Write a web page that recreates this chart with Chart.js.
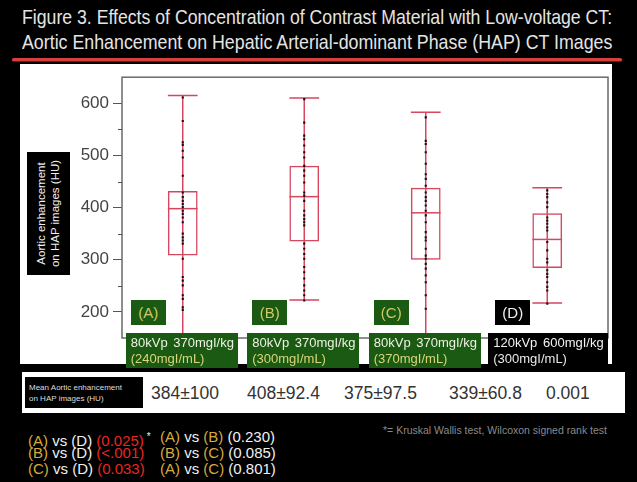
<!DOCTYPE html>
<html>
<head>
<meta charset="utf-8">
<script src="https://cdn.jsdelivr.net/npm/chart.js@4.4.0/dist/chart.umd.min.js"></script>
<style>
html, body { margin: 0; padding: 0; background: #000; }
body { width: 637px; height: 482px; position: relative; overflow: hidden; font-family: "Liberation Sans", Arial, sans-serif; }
.abs { position: absolute; }
.title { left: 22px; color: #e4e4e4; font-size: 21px; white-space: nowrap; line-height: 24px; transform-origin: 0 0; }
#rule { left: 12px; top: 58px; width: 610px; height: 3px; background: #d8403c; border-radius: 2px; box-shadow: 0 1px 1px #7a1a18; }
#panel { left: 20px; top: 64px; width: 592px; height: 300px; background: #fff; }
#chartWrap { left: 20px; top: 63px; width: 592px; height: 300px; }
#ytitle { left: 27px; top: 152px; width: 43px; height: 123px; background: #000; overflow: hidden; }
#ytitle div { position: absolute; left: -40px; top: 40px; width: 123px; height: 43px; transform: rotate(-90deg); color: #f0f0f0; font-size: 11.5px; line-height: 14px; text-align: center; padding-top: 7px; box-sizing: border-box; }
.tag { height: 25px; width: 35px; color: #d2c868; font-size: 15px; line-height: 25px; text-align: center; }
.cat { height: 35px; font-size: 13px; line-height: 16px; padding: 2px 0 0 5px; box-sizing: border-box; white-space: nowrap; word-spacing: 2px; }
#table { left: 22px; top: 372px; width: 603px; height: 41px; background: #fff; }
#tlabel { left: 25px; top: 377px; width: 118px; height: 31px; background: #000; color: #ddd; font-size: 8px; line-height: 11px; padding: 5px 0 0 4px; box-sizing: border-box; }
.tval { top: 383px; color: #333; font-size: 17.5px; line-height: 20px; white-space: nowrap; }
.cmp { font-size: 15px; line-height: 16px; color: #f0f0f0; white-space: nowrap; }
.g { color: #d6ab3c; }
.r { color: #e8271f; }
#foot { left: 383px; top: 424px; color: #8a8a8a; font-size: 10.5px; white-space: nowrap; }
</style>
</head>
<body>
<div class="abs title" id="t1" style="top:5px">Figure 3. Effects of Concentration of Contrast Material with Low-voltage CT:</div>
<div class="abs title" id="t2" style="top:30px">Aortic Enhancement on Hepatic Arterial-dominant Phase (HAP) CT Images</div>
<div class="abs" id="rule"></div>
<div class="abs" id="panel"></div>
<div class="abs" id="chartWrap"><canvas id="chart" width="592" height="300"></canvas></div>
<div class="abs" id="ytitle"><div>Aortic enhancement<br>on HAP images (HU)</div></div>
<div id="overlays"></div>

<div class="abs" id="table"></div>
<div class="abs" id="tlabel">Mean Aortic enhancement<br>on HAP images (HU)</div>
<div class="abs tval" style="left:151px">384±100</div>
<div class="abs tval" style="left:247px">408±92.4</div>
<div class="abs tval" style="left:344px">375±97.5</div>
<div class="abs tval" style="left:449px">339±60.8</div>
<div class="abs tval" style="left:546px">0.001</div>

<div class="abs cmp" style="left:28px;top:429px"><span class="g">(A)</span> vs (D) <span class="r">(0.025)</span><sup style="font-size:10px"> *</sup></div>
<div class="abs cmp" style="left:28px;top:445px"><span class="g">(B)</span> vs (D) <span class="r">(&lt;.001)</span></div>
<div class="abs cmp" style="left:28px;top:461px"><span class="g">(C)</span> vs (D) <span class="r">(0.033)</span></div>
<div class="abs cmp" style="left:160px;top:429px"><span class="g">(A)</span> vs <span class="g">(B)</span> (0.230)</div>
<div class="abs cmp" style="left:160px;top:445px"><span class="g">(B)</span> vs <span class="g">(C)</span> (0.085)</div>
<div class="abs cmp" style="left:160px;top:461px"><span class="g">(A)</span> vs <span class="g">(C)</span> (0.801)</div>
<div class="abs" id="foot">*= Kruskal Wallis test, Wilcoxon signed rank test</div>

<script>
// groups and box summary (HU)
const categories = ['A', 'B', 'C', 'D'];
const tagLabels = ['(A)', '(B)', '(C)', '(D)'];
const protocols = ['80kVp 370mgI/kg', '80kVp 370mgI/kg', '80kVp 370mgI/kg', '120kVp 600mgI/kg'];
const concentrations = ['(240mgI/mL)', '(300mgI/mL)', '(370mgI/mL)', '(300mgI/mL)'];
const whiskerLow = [140, 223, 140, 217];
const boxLow = [308, 335, 300, 284];
const medians = [398, 421, 390, 339];
const boxHigh = [432, 480, 438, 389];
const whiskerHigh = [615, 610, 583, 438];

// individual patients
const dotsA = [611, 566, 525, 520, 509, 496, 461, 429, 420, 413, 407, 401, 394, 388, 381, 372,
  350, 343, 337, 331, 302, 267, 260, 251, 232, 225, 209, 204];
const dotsB = [608, 563, 538, 531, 519, 506, 496, 480, 471, 461, 448, 429, 423, 413, 394, 385,
  378, 372, 366, 331, 321, 311, 302, 286, 276, 264, 251, 241, 232, 222];
const dotsC = [573, 528, 522, 506, 484, 464, 455, 442, 429, 420, 413, 404, 394, 385, 372, 353,
  343, 337, 321, 308, 302, 292, 283, 270, 257, 232, 206];
const dotsD = [433, 426, 420, 410, 401, 381, 375, 369, 362, 356, 334, 318, 302, 295, 280, 273,
  267, 257, 248, 241, 216];

const yMin = 150;
const yMax = 650;
const yStep = 50;
const minorTicks = [250, 350, 450, 550];

const boxRed = '#d7465f';
const allDots = [dotsA, dotsB, dotsC, dotsD];

// squeeze the title lines to the panel width
[['t1', 590], ['t2', 590]].forEach(([id, w]) => {
    const el = document.getElementById(id);
    el.style.transform = 'scaleX(' + (w / el.offsetWidth) + ')';
});

const boxExtras = {
    id: 'boxExtras',
    beforeDatasetsDraw(chart) {
        const { ctx, chartArea: a, scales: { x, y } } = chart;
        const bars = chart.getDatasetMeta(0).data;
        ctx.save();
        ctx.beginPath();
        ctx.rect(a.left, a.top, a.right - a.left, a.bottom - a.top);
        ctx.clip();
        ctx.strokeStyle = boxRed;
        ctx.lineWidth = 1.5;
        categories.forEach((c, i) => {
            const cx = x.getPixelForValue(i);
            const half = bars[i].width / 2;
            const lo = y.getPixelForValue(whiskerLow[i]);
            const hi = y.getPixelForValue(whiskerHigh[i]);
            ctx.beginPath();
            ctx.moveTo(cx, lo); ctx.lineTo(cx, hi);
            ctx.moveTo(cx - half, lo); ctx.lineTo(cx + half, lo);
            ctx.moveTo(cx - half, hi); ctx.lineTo(cx + half, hi);
            ctx.stroke();
        });
        ctx.restore();
    },
    afterDatasetDraw(chart, args) {
        if (args.index !== 0) return;
        const { ctx, scales: { x, y } } = chart;
        const bars = chart.getDatasetMeta(0).data;
        ctx.save();
        ctx.strokeStyle = boxRed;
        ctx.lineWidth = 1.5;
        categories.forEach((c, i) => {
            const cx = x.getPixelForValue(i);
            const half = bars[i].width / 2;
            const m = y.getPixelForValue(medians[i]);
            ctx.beginPath();
            ctx.moveTo(cx - half, m); ctx.lineTo(cx + half, m);
            ctx.stroke();
        });
        ctx.restore();
    },
    afterDraw(chart) {
        const { ctx, chartArea: a, scales: { y } } = chart;
        ctx.save();
        ctx.strokeStyle = '#6a6a6a';
        ctx.lineWidth = 1.5;
        ctx.strokeRect(a.left, a.top, a.right - a.left, a.bottom - a.top);
        ctx.lineWidth = 1;
        ctx.strokeStyle = '#555';
        minorTicks.forEach(v => {
            const py = Math.round(y.getPixelForValue(v)) + 0.5;
            ctx.beginPath();
            ctx.moveTo(a.left - 4, py); ctx.lineTo(a.left, py);
            ctx.stroke();
        });
        ctx.restore();
    }
};

const chart = new Chart(document.getElementById('chart'), {
    type: 'bar',
    data: {
        labels: categories,
        datasets: [{
            type: 'bar',
            data: categories.map((c, i) => [boxLow[i], boxHigh[i]]),
            backgroundColor: 'rgba(255,255,255,0)',
            borderColor: boxRed,
            borderWidth: 1.5,
            borderSkipped: false,
            barPercentage: 0.245,
            categoryPercentage: 1,
            order: 1
        }, {
            type: 'scatter',
            data: allDots.flatMap((arr, i) => arr.map(v => ({ x: categories[i], y: v }))),
            backgroundColor: '#111',
            borderWidth: 0,
            pointStyle: 'rect',
            pointRadius: 1.5,
            order: 0
        }]
    },
    options: {
        responsive: false,
        animation: false,
        events: [],
        layout: { padding: { left: 40, top: 14, right: 4, bottom: 25 } },
        plugins: { legend: { display: false }, tooltip: { enabled: false } },
        scales: {
            x: { type: 'category', display: false, offset: true },
            y: {
                min: yMin,
                max: yMax,
                afterFit(scale) { scale.width = 62; },
                border: { display: false },
                grid: {
                    drawOnChartArea: false,
                    tickLength: 9,
                    tickWidth: 1,
                    tickColor: c => (c.tick && c.tick.value % 100 === 0 && c.tick.value >= 200 && c.tick.value <= 600) ? '#555' : 'rgba(0,0,0,0)'
                },
                ticks: {
                    stepSize: yStep,
                    padding: 4,
                    color: '#444',
                    font: { family: '"Liberation Sans", Arial, sans-serif', size: 17 },
                    callback: v => (v % 100 === 0 && v >= 200 && v <= 600) ? v : ''
                }
            }
        }
    },
    plugins: [boxExtras]
});

// group tags and protocol boxes under each box
const ov = document.getElementById('overlays');
const cw = document.getElementById('chartWrap');
categories.forEach((c, i) => {
    const cx = cw.offsetLeft + chart.scales.x.getPixelForValue(i);
    const isRef = i === 3;
    const bg = isRef ? '#000' : '#1b5a12';
    const tag = document.createElement('div');
    tag.className = 'abs tag';
    tag.style.left = (cx - 52) + 'px';
    tag.style.top = '300px';
    tag.style.background = bg;
    if (isRef) tag.style.color = '#f0f0f0';
    tag.textContent = tagLabels[i];
    ov.appendChild(tag);

    const box = document.createElement('div');
    box.className = 'abs cat';
    box.style.left = (cx - (isRef ? 59 : 57)) + 'px';
    box.style.width = (isRef ? 120 : 112) + 'px';
    box.style.top = '333px';
    box.style.background = bg;
    box.innerHTML = '<span style="color:' + (isRef ? '#f2f2f2' : '#eef2e4') + '">' + protocols[i] + '</span><br>' +
        '<span style="color:' + (isRef ? '#e8e8e8' : '#d9d67a') + '">' + concentrations[i] + '</span>';
    ov.appendChild(box);
});
</script>
</body>
</html>
